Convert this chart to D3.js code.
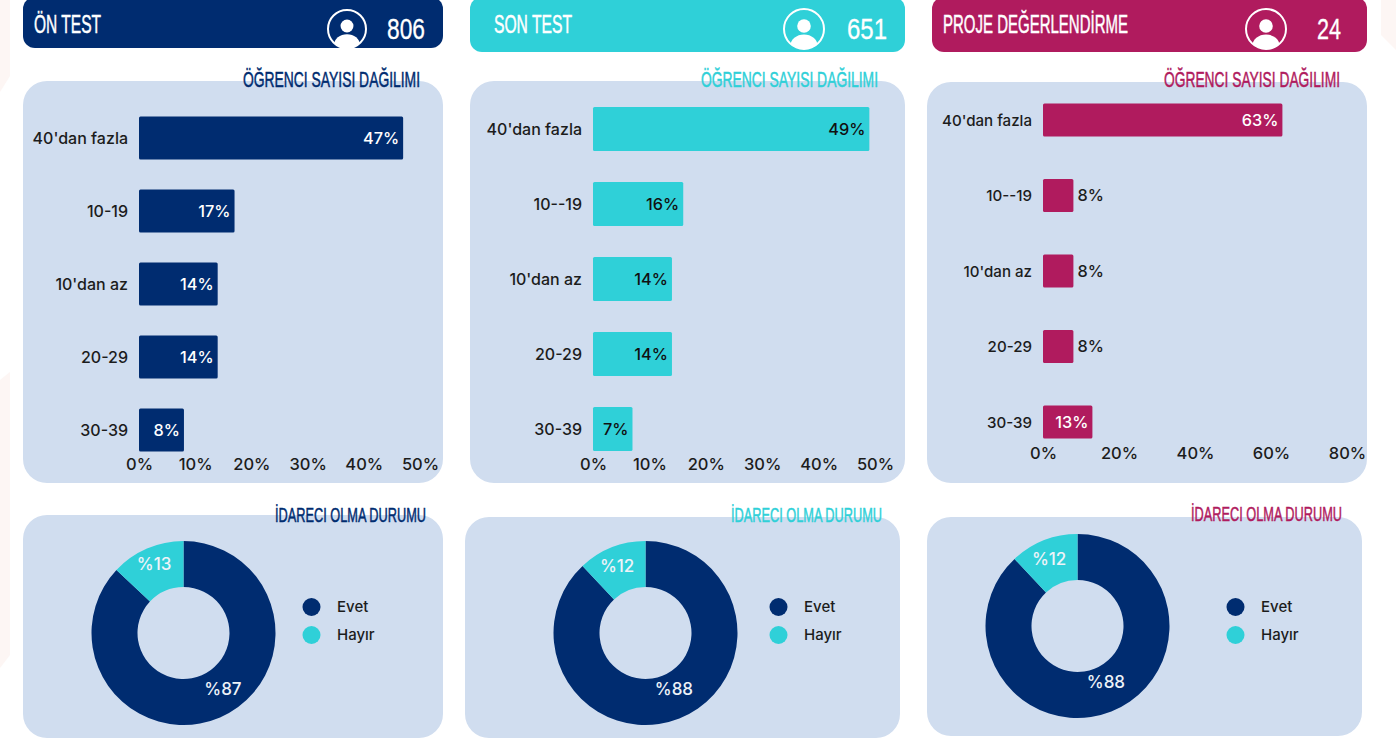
<!DOCTYPE html>
<html><head><meta charset="utf-8">
<script src="https://cdn.jsdelivr.net/npm/d3@7"></script>
<style>
html,body{margin:0;padding:0;background:#fff;overflow:hidden}
svg{display:block}
.lab{font-family:Inter,"Open Sans",sans-serif;font-weight:500}
.hand{font-family:"Liberation Sans Narrow","Liberation Sans",sans-serif;font-weight:400}
</style></head><body>
<svg id="c" width="1396" height="738"></svg>
<script>
// ---------- data ----------
const headerTitles = ["ÖN TEST", "SON TEST", "PROJE DEĞERLENDİRME"];
const headerCounts = [806, 651, 24];
const barCategoriesA = ["40'dan fazla", "10-19", "10'dan az", "20-29", "30-39"];
const barCategoriesB = ["40'dan fazla", "10--19", "10'dan az", "20-29", "30-39"];
const barValuesOnTest = [47, 17, 14, 14, 8];
const barValuesSonTest = [49, 16, 14, 14, 7];
const barValuesProje = [63, 8, 8, 8, 13];
const donutCategories = ["Evet", "Hayır"];
const donutOnTest = [87, 13];
const donutSonTest = [88, 12];
const donutProje = [88, 12];
const barSubtitle = "ÖĞRENCI SAYISI DAĞILIMI";
const donutSubtitle = "İDARECI OLMA DURUMU";

// ---------- palette / layout ----------
const NAVY="#002c70", TEAL="#2fd0d8", PINK="#b01b5e", PANEL="#d0ddef", INK="#1c1c1c";
const layouts=[
 {color:NAVY,hdr:[23,-3,420,51],icon:[347,29,19],count:[387,38],titleX:[34,67],titleY:24,catSize:16,
  barPanel:[23,81,420,402],x0:139,x1:420,axisMax:50,axisY:465,firstY:138,lastY:430,bh:43,
  cats:barCategoriesA,vals:barValuesOnTest,inside:()=>true,insideFill:"#fff",
  subX:[243,177],subY:79,
  dPanel:[23,515,420,223],dc:[183.5,633],leg:[311.5,337],legY:[607,635],dSubX:[275,151],dSubY:515,dvals:donutOnTest,
  nudge:[[12,-7],[-2,-6]]},
 {color:TEAL,hdr:[470,-3,435,55],icon:[804,29,20],count:[847,40],titleX:[494,78],titleY:24,catSize:16,
  barPanel:[470,81,435,402],x0:593,x1:875,axisMax:50,axisY:465,firstY:129,lastY:429,bh:44,
  cats:barCategoriesB,vals:barValuesSonTest,inside:()=>true,insideFill:"#111",
  subX:[701,177],subY:79,
  dPanel:[465,517,435,221],dc:[645.5,633],leg:[778.5,804],legY:[607,635],dSubX:[731,151],dSubY:515,dvals:donutSonTest,
  nudge:[[3,-8],[-3,-3]]},
 {color:PINK,hdr:[932,-3,435,55],icon:[1266,29,20],count:[1317,24],titleX:[943,185],titleY:24,catSize:15.1,
  barPanel:[927,82,440,401],x0:1043,x1:1347,axisMax:80,axisY:454,firstY:120,lastY:422,bh:33,
  cats:barCategoriesB,vals:barValuesProje,inside:v=>v>10,insideFill:"#fff",
  subX:[1164,176],subY:79,
  dPanel:[927,517,435,219],dc:[1077.5,626],leg:[1235.5,1261],legY:[607,635],dSubX:[1191,151],dSubY:514,dvals:donutProje,
  nudge:[[3,-8],[-3,-3]]}
];

const svg=d3.select("#c");

// faint background shapes at the page edges
const bgShapes=[[[0,0],[10,0],[10,76],[0,92]],[[0,380],[10,372],[10,655],[0,668]],[[1381,0],[1396,0],[1396,50],[1381,35]]];
svg.selectAll("polygon.bg").data(bgShapes).join("polygon").attr("class","bg")
  .attr("points",d=>d.map(p=>p.join(",")).join(" ")).attr("fill","#fdf6f4");

function rrect(g,b,fill,r){g.append("rect").attr("x",b[0]).attr("y",b[1]).attr("width",b[2]).attr("height",b[3]).attr("rx",r).attr("fill",fill);}
function handText(g,txt,xs,y,size,fill,sw){
  g.append("text").attr("class","hand").attr("x",xs[0]).attr("y",y).attr("dy","0.35em")
   .attr("textLength",xs[1]).attr("lengthAdjust","spacingAndGlyphs")
   .attr("font-size",size).attr("fill",fill).attr("stroke",fill).attr("stroke-width",sw).text(txt);
}

layouts.forEach((L,i)=>{
  const g=svg.append("g");
  // header
  rrect(g,L.hdr,L.color,12);
  handText(g,headerTitles[i],L.titleX,L.titleY,26,"#fff",0.5);
  const clipId="ic"+i, [ix,iy,ir]=L.icon;
  g.append("clipPath").attr("id",clipId).append("circle").attr("cx",ix).attr("cy",iy).attr("r",ir);
  const ic=g.append("g");
  ic.append("circle").attr("cx",ix).attr("cy",iy-3).attr("r",ir*0.34).attr("fill","#fff");
  ic.append("ellipse").attr("cx",ix).attr("cy",iy+ir*0.85).attr("rx",ir*0.68).attr("ry",ir*0.58).attr("fill","#fff").attr("clip-path",`url(#${clipId})`);
  ic.append("circle").attr("cx",ix).attr("cy",iy).attr("r",ir).attr("fill","none").attr("stroke","#fff").attr("stroke-width",2);
  handText(g,String(headerCounts[i]),L.count,29,29,"#fff",0.3);

  // bar panel
  rrect(g,L.barPanel,PANEL,24);
  handText(g,barSubtitle,L.subX,L.subY,22,L.color,0.5);
  const step=(L.lastY-L.firstY)/4;
  const x=d3.scaleLinear().domain([0,L.axisMax]).range([L.x0,L.x1]);
  const y=d3.scaleBand().domain(L.cats).range([L.firstY-step/2,L.lastY+step/2]).paddingInner(1-L.bh/step).paddingOuter((1-L.bh/step)/2);
  const rows=L.cats.map((c,k)=>({c,v:L.vals[k]}));
  g.selectAll("rect.bar").data(rows).join("rect").attr("class","bar")
    .attr("x",x(0)).attr("y",d=>y(d.c)).attr("width",d=>x(d.v)-x(0)).attr("height",y.bandwidth()).attr("rx",1.5).attr("fill",L.color);
  g.selectAll("text.val").data(rows).join("text").attr("class","val lab")
    .attr("x",d=>L.inside(d.v)?x(d.v)-4:x(d.v)+4).attr("y",d=>y(d.c)+y.bandwidth()/2).attr("dy","0.36em")
    .attr("text-anchor",d=>L.inside(d.v)?"end":"start").attr("font-size",16.3)
    .attr("fill",d=>L.inside(d.v)?L.insideFill:INK).text(d=>d.v+"%");
  const ya=g.append("g").attr("transform",`translate(${L.x0},0)`).call(d3.axisLeft(y).tickSize(0).tickPadding(11));
  ya.select(".domain").remove();
  ya.selectAll("text").attr("class","lab").attr("font-size",L.catSize).attr("dy","0.38em").attr("fill",INK);
  const xa=g.append("g").attr("transform",`translate(0,${L.axisY-9})`)
    .call(d3.axisBottom(x).tickValues(d3.range(0,L.axisMax+1,L.axisMax===50?10:20)).tickFormat(d=>d+"%").tickSize(0).tickPadding(0));
  xa.select(".domain").remove();
  xa.selectAll("text").attr("class","lab").attr("font-size",16.5).attr("y",0).attr("dy","0.85em").attr("fill",INK);

  // donut panel
  rrect(g,L.dPanel,PANEL,24);
  handText(g,donutSubtitle,L.dSubX,L.dSubY,21,L.color,0.5);
  const pie=d3.pie().sort(null)(L.dvals);
  const arc=d3.arc().innerRadius(46).outerRadius(92);
  const dg=g.append("g").attr("transform",`translate(${L.dc[0]},${L.dc[1]})`);
  dg.selectAll("path").data(pie).join("path").attr("d",arc).attr("fill",(d,k)=>k===0?NAVY:TEAL);
  dg.selectAll("text").data(pie).join("text").attr("class","lab")
    .attr("x",(d,k)=>arc.centroid(d)[0]+L.nudge[k===0?0:1][0])
    .attr("y",(d,k)=>arc.centroid(d)[1]+L.nudge[k===0?0:1][1]).attr("dy","0.36em")
    .attr("text-anchor","middle").attr("font-size",17).attr("font-weight",400).attr("fill","#eef3f8").text(d=>"%"+d.value);
  donutCategories.forEach((c,k)=>{
    g.append("circle").attr("cx",L.leg[0]).attr("cy",L.legY[k]).attr("r",9).attr("fill",k===0?NAVY:TEAL);
    g.append("text").attr("class","lab").attr("x",L.leg[1]).attr("y",L.legY[k]).attr("dy","0.36em").attr("font-size",15).attr("fill",INK).text(c);
  });
});
</script>
</body></html>
